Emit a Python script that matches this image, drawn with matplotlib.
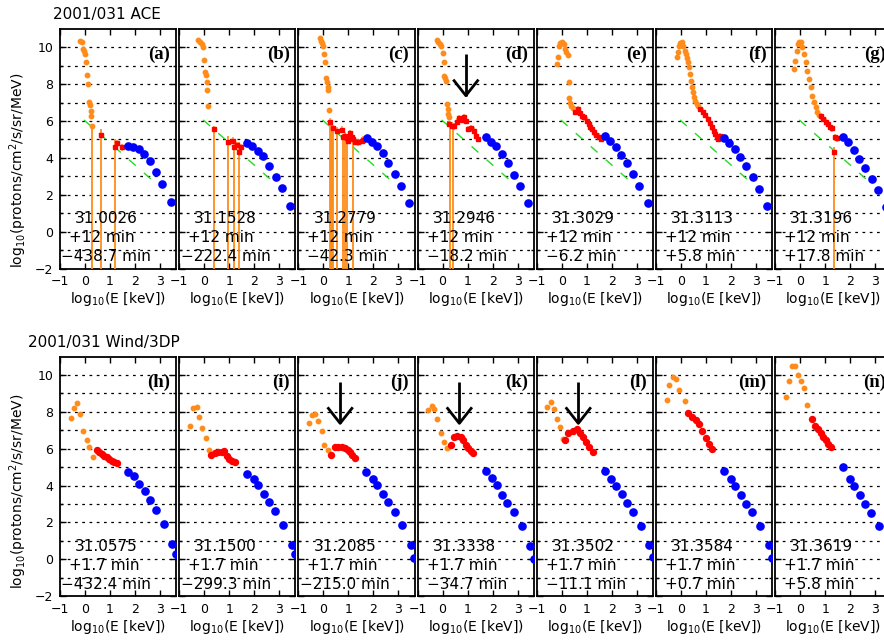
import numpy as np
import matplotlib.pyplot as plt

plt.rcParams['font.family'] = ['DejaVu Sans']
plt.rcParams['mathtext.fontset'] = 'dejavusans'

# ---------------- ACE (top row) ----------------
ace_labels = ['(a)', '(b)', '(c)', '(d)', '(e)', '(f)', '(g)']
ace_times = ['31.0026', '31.1528', '31.2779', '31.2946', '31.3029', '31.3113', '31.3196']
ace_dt = [-438.7, -222.4, -42.3, -18.2, -6.2, 5.8, 17.8]
ace_avg = '+12 min'

ace_orange_x = [
    [-0.2, -0.13, -0.09, -0.04, 0, 0.04, 0.07, 0.11, 0.17, 0.2, 0.23, 0.25, 0.28],
    [-0.23, -0.16, -0.09, -0.03, 0.01, 0.04, 0.07, 0.11, 0.13, 0.17],
    [-0.13, -0.09, -0.04, 0, 0.04, 0.07, 0.11, 0.13, 0.17, 0.2, 0.23],
    [-0.23, -0.17, -0.12, -0.07, 0, 0.04, 0.07, 0.09, 0.13, 0.17, 0.2, 0.23, 0.27],
    [-0.2, -0.16, -0.13, -0.07, 0, 0.07, 0.13, 0.17, 0.23, 0.27, 0.29, 0.33, 0.37, 0.43],
    [-0.17, -0.13, -0.09, -0.04, 0.04, 0.09, 0.16, 0.2, 0.24, 0.29, 0.33, 0.36, 0.4, 0.44,
     0.49, 0.53, 0.57, 0.63, 0.69],
    [-0.23, -0.2, -0.13, -0.09, -0.04, 0.03, 0.09, 0.16, 0.23, 0.29, 0.36, 0.43, 0.49, 0.56,
     0.63, 0.69, 0.76],
]
ace_orange_y = [
    [10.36, 10.27, 9.91, 9.82, 9.64, 9.19, 8.5, 8.01, 7.05, 6.87, 6.56, 6.26, 5.75],
    [10.42, 10.31, 10.18, 10.0, 9.31, 8.64, 8.5, 8.1, 7.69, 6.84],
    [10.49, 10.36, 10.24, 10.09, 9.64, 9.22, 8.32, 8.1, 7.83, 7.7, 6.62],
    [10.42, 10.31, 10.18, 10.05, 9.69, 9.19, 8.46, 8.32, 8.19, 6.93, 6.65, 6.38, 6.2],
    [9.1, 9.46, 10.05, 10.24, 10.27, 10.18, 9.91, 9.73, 9.58, 8.14, 7.23, 6.98, 6.84, 6.69],
    [9.46, 9.73, 10.09, 10.24, 10.27, 10.09, 9.82, 9.64, 9.4, 9.19, 8.91, 8.55, 8.19, 7.83,
     7.56, 7.29, 7.11, 6.93, 6.8],
    [8.82, 9.28, 9.82, 10.18, 10.31, 10.27, 10.0, 9.64, 9.19, 8.73, 8.28, 7.83, 7.38, 7.02,
     6.74, 6.51, 6.33],
]

ace_red_x = [
    [0.64, 1.2, 1.27, 1.47],
    [0.41, 0.97, 1.15, 1.21, 1.33, 1.4, 1.47],
    [0.27, 0.4, 0.53, 0.73, 0.8, 0.87, 0.93, 1.0, 1.07, 1.13, 1.2, 1.27, 1.4, 1.53, 1.6],
    [0.27, 0.36, 0.47, 0.57, 0.67, 0.76, 0.87, 0.93, 1.03, 1.13, 1.24, 1.33, 1.4],
    [0.53, 0.63, 0.71, 0.8, 0.89, 1.0, 1.07, 1.13, 1.2, 1.29, 1.37, 1.47, 1.56],
    [0.76, 0.87, 0.97, 1.07, 1.16, 1.24, 1.31, 1.37, 1.44, 1.49, 1.57, 1.64],
    [0.83, 0.93, 1.03, 1.11, 1.2, 1.27, 1.36, 1.4, 1.49],
]
ace_red_y = [
    [5.24, 4.58, 4.79, 4.58],
    [5.57, 4.88, 4.94, 4.58, 4.7, 4.34, 4.58],
    [5.97, 5.61, 5.48, 5.54, 5.12, 5.21, 5.07, 4.94, 5.36, 5.12, 5.03, 4.88, 4.85, 4.94, 4.99],
    [5.84, 5.75, 5.71, 5.97, 6.15, 6.08, 6.2, 6.02, 5.57, 5.61, 5.48, 5.21, 5.03],
    [6.51, 6.65, 6.44, 6.26, 6.2, 6.02, 5.84, 5.66, 5.57, 5.39, 5.24, 5.15, 5.03],
    [6.65, 6.51, 6.33, 6.11, 5.9, 5.66, 5.48, 5.3, 5.12, 5.03, 5.17, 5.12],
    [6.26, 6.11, 5.97, 5.84, 5.7, 5.61, 4.3, 5.12, 5.07],
]

# error bars reaching below zero flux (drawn down to the bottom of the panel)
ace_drop_x = [
    [0.28, 0.65, 1.2],
    [0.41, 0.97, 1.21, 1.4],
    [0.25, 0.29, 0.33, 0.37, 0.53, 0.77, 0.87, 0.96, 1.2],
    [0.31, 0.4],
    [],
    [],
    [1.36],
]
ace_drop_top = [
    [5.75, 5.57, 5.03],
    [5.75, 5.17, 5.03, 4.85],
    [5.9, 5.9, 5.8, 5.6, 5.5, 5.3, 5.2, 5.1, 5.0],
    [5.7, 5.6],
    [],
    [],
    [4.6],
]

ace_blue_x = [1.73, 1.93, 2.15, 2.37, 2.6, 2.86, 3.1, 3.43]
ace_blue_y = [
    [4.63, 4.58, 4.48, 4.21, 3.82, 3.25, 2.59, 1.63],
    [4.79, 4.67, 4.39, 4.08, 3.58, 2.98, 2.35, 1.41],
    [5.08, 4.85, 4.63, 4.25, 3.73, 3.11, 2.46, 1.54],
    [5.12, 4.88, 4.63, 4.21, 3.71, 3.09, 2.46, 1.54],
    [5.17, 4.94, 4.61, 4.18, 3.71, 3.13, 2.5, 1.54],
    [5.08, 4.79, 4.48, 4.03, 3.54, 2.95, 2.31, 1.37],
    [5.12, 4.85, 4.45, 3.94, 3.45, 2.86, 2.28, 1.32],
]

# fitted power law (green dashed)
fit_x = [-0.04, 2.63]
fit_y = [6.06, 2.86]

# ---------------- Wind/3DP (bottom row) ----------------
wind_labels = ['(h)', '(i)', '(j)', '(k)', '(l)', '(m)', '(n)']
wind_times = ['31.0575', '31.1500', '31.2085', '31.3338', '31.3502', '31.3584', '31.3619']
wind_dt = [-432.4, -299.3, -215.0, -34.7, -11.1, 0.7, 5.8]
wind_avg = '+1.7 min'

wind_orange_x = [
    [-0.56, -0.44, -0.31, -0.2, -0.07, 0.07, 0.17, 0.31],
    [-0.57, -0.46, -0.3, -0.2, -0.08, 0.06, 0.19],
    [-0.56, -0.47, -0.34, -0.2, -0.07, 0.04, 0.17],
    [-0.57, -0.44, -0.33, -0.24, -0.08, 0.06, 0.16],
    [-0.58, -0.45, -0.31, -0.2, -0.07, 0.06],
    [-0.57, -0.47, -0.33, -0.2, -0.08, 0.17],
    [-0.58, -0.45, -0.34, -0.21, -0.1, 0.02, 0.15, 0.28],
]
wind_orange_y = [
    [7.69, 8.2, 8.5, 7.88, 6.99, 6.49, 6.07, 5.55],
    [7.24, 8.2, 8.25, 7.71, 7.12, 6.58, 5.95],
    [7.42, 7.84, 7.89, 7.53, 6.94, 6.18, 5.95],
    [8.11, 8.32, 8.14, 7.62, 6.88, 6.34, 6.04],
    [8.25, 8.56, 8.14, 7.62, 7.17, 6.52],
    [8.65, 9.44, 9.91, 9.78, 9.19, 8.59],
    [8.79, 9.68, 10.5, 10.5, 10.0, 9.68, 9.31, 8.38],
]
wind_red_x = [
    [0.47, 0.57, 0.67, 0.77, 0.87, 0.97, 1.07, 1.17, 1.27],
    [0.27, 0.43, 0.56, 0.7, 0.79, 0.9, 1.0, 1.12, 1.23],
    [0.3, 0.46, 0.6, 0.73, 0.86, 0.97, 1.06, 1.16, 1.26],
    [0.32, 0.46, 0.59, 0.72, 0.83, 0.94, 1.03, 1.12, 1.23],
    [0.13, 0.26, 0.44, 0.6, 0.73, 0.86, 0.97, 1.1, 1.24],
    [0.29, 0.45, 0.59, 0.72, 0.85, 0.99, 1.12, 1.25],
    [0.46, 0.59, 0.7, 0.82, 0.92, 1.03, 1.12, 1.22],
]
wind_red_y = [
    [5.91, 5.8, 5.71, 5.62, 5.53, 5.44, 5.35, 5.28, 5.22],
    [5.68, 5.77, 5.82, 5.8, 5.86, 5.62, 5.44, 5.31, 5.26],
    [5.68, 6.09, 6.12, 6.09, 6.04, 5.95, 5.82, 5.68, 5.5],
    [6.22, 6.63, 6.7, 6.63, 6.45, 6.22, 6.04, 5.89, 5.77],
    [6.49, 6.85, 6.99, 7.06, 6.85, 6.66, 6.39, 6.12, 5.8],
    [7.96, 7.75, 7.57, 7.34, 6.94, 6.58, 6.25, 5.98],
    [7.6, 7.26, 7.06, 6.85, 6.63, 6.45, 6.27, 6.09],
]
wind_blue_x = [1.72, 1.98, 2.16, 2.39, 2.59, 2.85, 3.16, 3.5, 3.64]
wind_blue_y = [
    [4.74, 4.5, 4.11, 3.69, 3.21, 2.7, 1.94, 0.85, 0.27],
    [4.65, 4.38, 4.02, 3.57, 3.12, 2.61, 1.89, 0.77, 0.27],
    [4.72, 4.36, 4.02, 3.55, 3.1, 2.58, 1.84, 0.76, 0.09],
    [4.77, 4.42, 4.02, 3.51, 3.06, 2.56, 1.8, 0.72, 0.04],
    [4.77, 4.38, 4.0, 3.55, 3.06, 2.56, 1.8, 0.76, 0.15],
    [4.8, 4.38, 4.0, 3.51, 3.01, 2.56, 1.8, 0.76, 0.09],
    [4.99, 4.38, 4.0, 3.51, 3.01, 2.52, 1.8, 0.72, 0.1],
]

# arrows marking the bump: (row, panel index, x of arrow)
arrows = [(0, 3, 0.93), (1, 2, 0.67), (1, 3, 0.67), (1, 4, 0.66)]

ORANGE = '#ff8c1a'
RED = '#ff0000'
BLUE = '#0000ff'
GREEN = '#22dd22'

W, H = 884, 640
fig = plt.figure(figsize=(W / 100, H / 100), dpi=100)


def make_axes(row, k):
    left = 60 + 119.2 * k
    top = 28.9 if row == 0 else 356.6
    bot = 268.5 if row == 0 else 596.2
    ax = fig.add_axes([left / W, 1 - bot / H, 116.25 / W, (bot - top) / H])
    ax.set_xlim(-1, 3.65)
    ax.set_ylim(-2, 11)
    ax.set_xticks([-1, 0, 1, 2, 3])
    ax.set_xticklabels(['\u22121', '0', '1', '2', '3'])
    ax.set_yticks(range(-2, 11, 2))
    ax.set_yticks(range(-1, 11, 2), minor=True)
    ax.tick_params(which='both', direction='in', top=True, right=True,
                   labelsize=9, pad=5, width=1)
    ax.tick_params(which='major', length=4)
    ax.tick_params(which='minor', length=2)
    if k > 0:
        ax.tick_params(labelleft=False)
    for s in ax.spines.values():
        s.set_linewidth(1.3)
    for yy in range(-1, 11):
        ax.axhline(yy, color='black', lw=0.9, dashes=(2.2, 3.6), zorder=0)
    ax.set_xlabel('log$_{10}$(E [keV])', fontsize=10, labelpad=1)
    return ax


def draw_text(ax, label, t, avg, dt):
    ax.text(3.42, 9.6, label, ha='right', va='center', fontsize=13.5,
            family='Liberation Serif', fontweight='bold')
    ax.text(-0.4, 0.45, t, ha='left', va='baseline', fontsize=11)
    ax.text(-0.64, -0.58, avg, ha='left', va='baseline', fontsize=11)
    x3 = -0.94 if abs(dt) >= 100 else -0.64
    s = ('%+.1f min' % dt).replace('-', '\u2212')
    ax.text(x3, -1.6, s, ha='left', va='baseline', fontsize=11)


def draw_arrow(ax, x0):
    ax.plot([x0, x0], [7.38, 9.64], color='black', lw=2, solid_capstyle='butt')
    ax.plot([x0 - 0.47, x0, x0 + 0.47], [8.19, 7.38, 8.19], color='black', lw=2)


# top row
for k in range(7):
    ax = make_axes(0, k)
    ax.plot(fit_x, fit_y, color=GREEN, lw=1.0, dashes=(6.5, 7.9), zorder=2)
    ax.vlines(ace_drop_x[k], -2, ace_drop_top[k], color=ORANGE, lw=1.3, zorder=3)
    ax.errorbar(ace_orange_x[k], ace_orange_y[k], yerr=0.1, fmt='o', ms=3.2,
                color=ORANGE, ecolor=ORANGE, elinewidth=0.8, capsize=0, zorder=4)
    ax.errorbar(ace_red_x[k], ace_red_y[k], yerr=0.18, fmt='s', ms=2.4,
                color=RED, ecolor='#ffa040', elinewidth=1.2, capsize=0, zorder=5)
    ax.plot(ace_blue_x, ace_blue_y[k], 'o', color=BLUE, ms=5.2, zorder=6)
    draw_text(ax, ace_labels[k], ace_times[k], ace_avg, ace_dt[k])
    for row, idx, xa in arrows:
        if row == 0 and idx == k:
            draw_arrow(ax, xa)

# bottom row
for k in range(7):
    ax = make_axes(1, k)
    ax.plot(wind_orange_x[k], wind_orange_y[k], 'o', color=ORANGE, ms=3.2, zorder=4)
    ax.plot(wind_red_x[k], wind_red_y[k], 'o', color=RED, ms=4.3, zorder=5)
    ax.plot(wind_blue_x, wind_blue_y[k], 'o', color=BLUE, ms=5.2, zorder=6)
    draw_text(ax, wind_labels[k], wind_times[k], wind_avg, wind_dt[k])
    for row, idx, xa in arrows:
        if row == 1 and idx == k:
            draw_arrow(ax, xa)

fig.text(53 / W, 1 - 15 / H, '2001/031 ACE', fontsize=11, ha='left', va='center')
fig.text(28 / W, 1 - 343 / H, '2001/031 Wind/3DP', fontsize=11, ha='left', va='center')
ylab = 'log$_{10}$(protons/cm$^2$/s/sr/MeV)'
fig.text(18 / W, 1 - 170 / H, ylab, fontsize=10, rotation=90, ha='center', va='center')
fig.text(18 / W, 1 - 491 / H, ylab, fontsize=10, rotation=90, ha='center', va='center')

fig.savefig('out.png', dpi=100)
